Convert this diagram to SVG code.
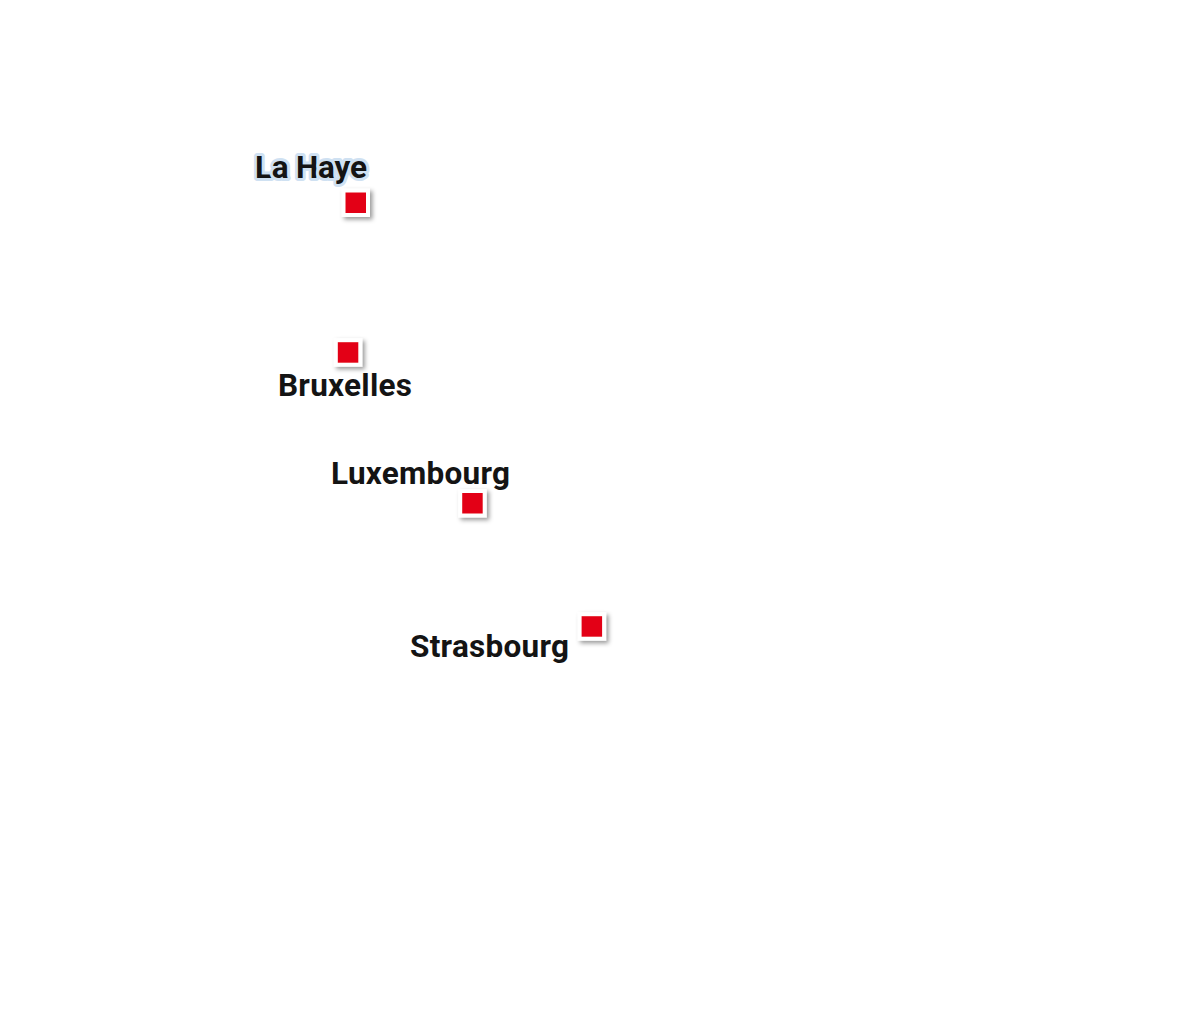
<svg xmlns="http://www.w3.org/2000/svg" width="1200" height="1023" viewBox="0 0 1200 1023">
<defs>
<filter id="sh" x="-40%" y="-40%" width="190%" height="190%">
<feDropShadow dx="2.5" dy="2.5" stdDeviation="2" flood-color="#000" flood-opacity="0.4"/>
</filter>
</defs>
<style>
.lbl{font-family:Roboto,"Noto Sans","Liberation Sans",sans-serif;font-weight:bold;font-size:31.5px;fill:#141414}
.halo{stroke:#cfe1f2;stroke-width:6;stroke-linejoin:round;paint-order:stroke}
.sq{fill:#e30613;stroke:#fff;stroke-width:4;filter:url(#sh)}
</style>
<rect width="1200" height="1023" fill="#fff"/>
<g id="lahaye">
<rect class="sq" x="343.5" y="190.5" width="24.5" height="24.5"/>
<text class="lbl halo" x="255" y="178" textLength="112" lengthAdjust="spacing">La Haye</text>
</g>
<g id="bruxelles">
<rect class="sq" x="335.8" y="340.2" width="24.5" height="24.5"/>
<text class="lbl" x="278" y="396" textLength="134" lengthAdjust="spacing">Bruxelles</text>
</g>
<g id="luxembourg">
<rect class="sq" x="460.2" y="491" width="24.5" height="24.5"/>
<text class="lbl" x="331" y="484" textLength="179" lengthAdjust="spacing">Luxembourg</text>
</g>
<g id="strasbourg">
<rect class="sq" x="579.6" y="614.2" width="24.5" height="24.5"/>
<text class="lbl" x="410" y="657" textLength="159" lengthAdjust="spacing">Strasbourg</text>
</g>
<g id="connectors"/>
</svg>
